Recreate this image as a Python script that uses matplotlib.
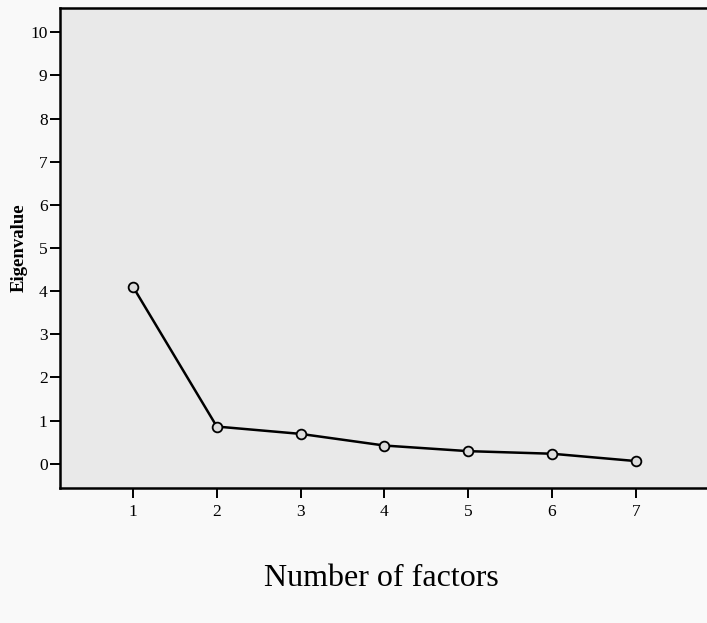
import matplotlib.pyplot as plt

factors = [1, 2, 3, 4, 5, 6, 7]
eigenvalues = [4.10, 0.86, 0.69, 0.42, 0.29, 0.23, 0.06]
y_ticks = list(range(0, 11))

plt.rcParams["font.family"] = ["Liberation Serif", "DejaVu Serif"]

fig = plt.figure(figsize=(7.07, 6.23), dpi=100, facecolor="#f9f9f9")
ax = fig.add_axes([0.085, 0.217, 0.915, 0.770])
ax.set_facecolor("#e9e9e9")

ax.plot(factors, eigenvalues, color="black", linewidth=1.8,
        marker="o", markersize=7, markerfacecolor="#dcdcdc",
        markeredgecolor="black", markeredgewidth=1.3)

ax.set_xlim(0.13, 7.85)
ax.set_ylim(-0.56, 10.56)
ax.set_xticks(factors)
ax.set_yticks(y_ticks)
ax.tick_params(axis="both", direction="out", length=7, width=1.4,
               labelsize=12.5, color="black", pad=2)
ax.tick_params(axis="x", pad=5)

for side in ["left", "top", "bottom"]:
    ax.spines[side].set_linewidth(1.8)
ax.spines["right"].set_visible(False)

ax.set_ylabel("Eigenvalue", fontsize=13.5, fontweight="bold", labelpad=2)
fig.text(0.54, 0.072, "Number of factors", fontsize=23, ha="center", va="center")

fig.savefig("out.png", dpi=100, facecolor=fig.get_facecolor())
